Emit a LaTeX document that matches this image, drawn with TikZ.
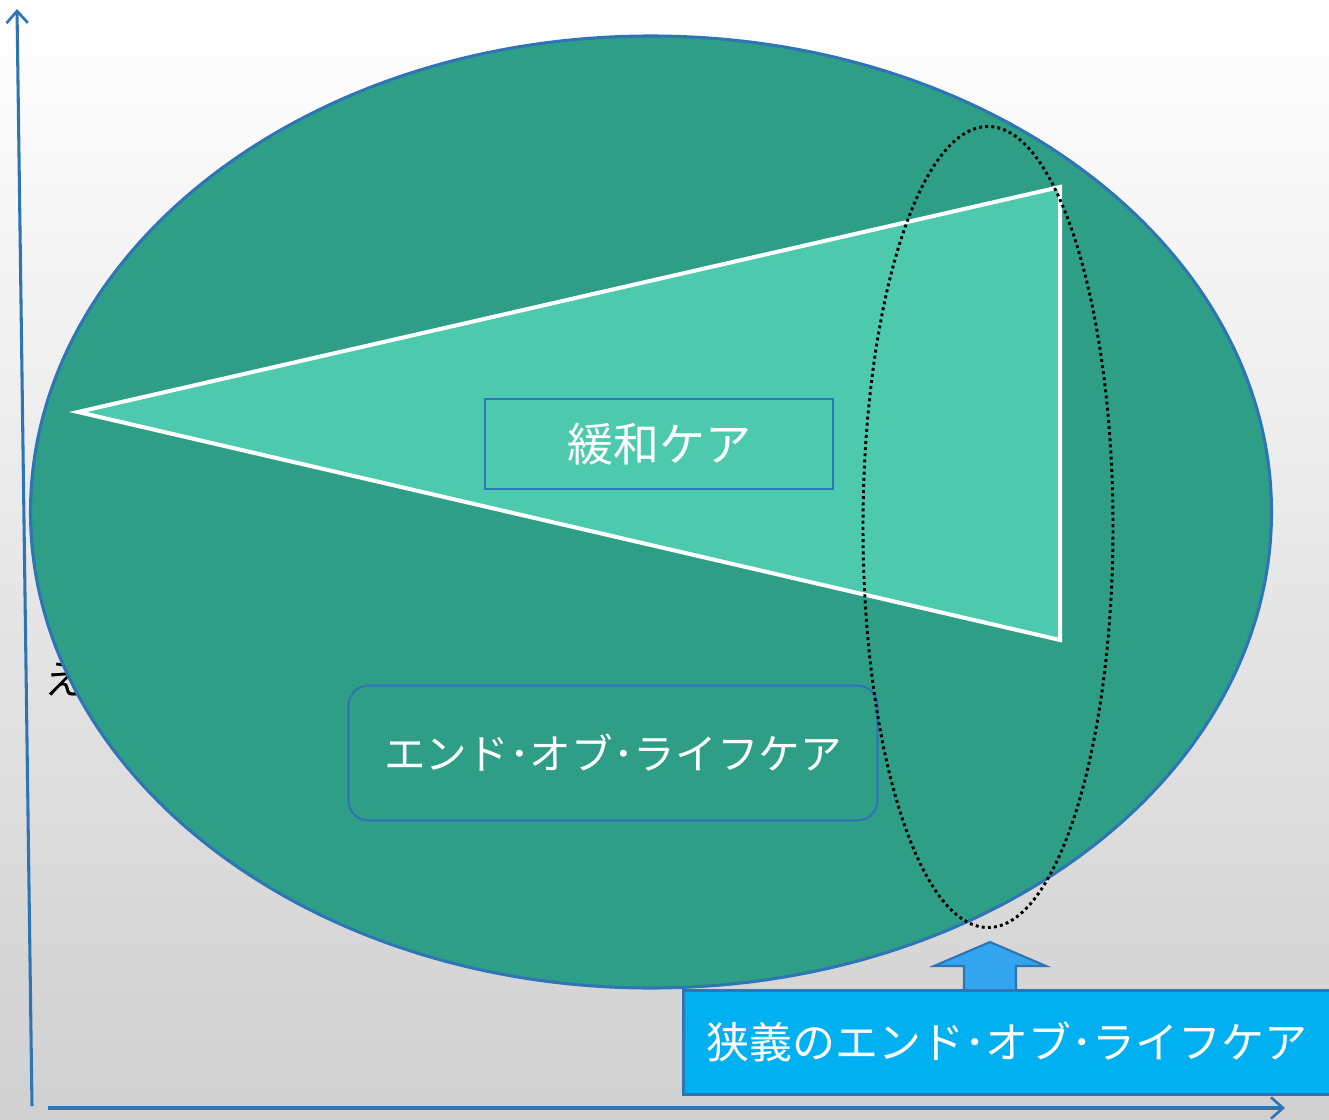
\documentclass[tikz,border=0pt]{standalone}
\usepackage{fontspec}
\newfontfamily\jp{Noto Sans CJK JP}
\usetikzlibrary{arrows.meta,shapes.geometric,shapes.arrows}
\definecolor{bgbot}{RGB}{208,208,208}
\definecolor{axisblue}{RGB}{46,117,182}
\definecolor{bigfill}{RGB}{47,158,134}
\definecolor{trifill}{RGB}{77,202,173}
\definecolor{boxfill}{RGB}{0,176,240}
\definecolor{arrfill}{RGB}{51,164,238}
\tikzset{
  axisline/.style={draw=axisblue, line width=2.3pt, -{Straight Barb[length=9pt,width=16pt,line width=2pt]}},
  whitetext/.style={text=white, font=\jp\fontsize{34.5pt}{40pt}\selectfont, inner sep=0pt},
}
\begin{document}
\begin{tikzpicture}[x=0.75pt,y=-0.75pt]
\useasboundingbox (0,0) rectangle (1329,1120);
\shade[top color=white, bottom color=bgbot] (0,0) rectangle (1329,1120);
% axes
\coordinate (yb) at (32,1106);
\coordinate (yt) at (17,9);
\coordinate (xl) at (48,1108);
\coordinate (xr) at (1285,1108);
\draw[axisline] (yb) -- (yt);
\draw[axisline] (xl) -- (xr);
% partially hidden text
\node[font=\jp\fontsize{30pt}{34pt}\selectfont, text=black, anchor=west, inner sep=0pt] (e) at (44,680) {え};
% big ellipse
\node[ellipse, draw=axisblue, line width=2.3pt, fill=bigfill, minimum width=1241*0.75pt, minimum height=952*0.75pt, inner sep=0pt] (big) at (651,512) {};
% triangle
\coordinate (ta) at (78,412);
\coordinate (tb) at (1060,187);
\coordinate (tc) at (1060,640);
\draw[white, line width=3pt, fill=trifill, line join=miter] (ta) -- (tb) -- (tc) -- cycle;
% labels
\node[draw=axisblue, line width=1.6pt, minimum width=348*0.75pt, minimum height=90*0.75pt, whitetext] (kanwa) at (659,444) {緩和ケア};
\node[draw=axisblue, line width=1.6pt, rounded corners=15pt, minimum width=529*0.75pt, minimum height=135*0.75pt, whitetext, font=\jp\fontsize{31.2pt}{36pt}\selectfont] (eol) at (613,753) {エンド･オブ･ライフケア};
% dotted ellipse
\node[ellipse, draw=black, line width=2.2pt, dash pattern=on 2.2pt off 2.4pt, minimum width=250*0.75pt, minimum height=801*0.75pt, inner sep=0pt] (narrow) at (988,527) {};
% up arrow
\draw[fill=arrfill, draw=axisblue, line width=1.6pt] (964,995) -- (964,966) -- (934,966) -- (990,942) -- (1046,966) -- (1016,966) -- (1016,995) -- cycle;
\coordinate (arrtip) at (990,942);
% bottom box
\node[draw=axisblue, line width=2pt, fill=boxfill, minimum width=650*0.75pt, minimum height=104*0.75pt, anchor=north west, inner sep=0pt] (nbox) at (682,989) {};
\node[whitetext, font=\jp\fontsize{32.2pt}{37pt}\selectfont] (nlabel) at (1007,1042) {狭義のエンド･オブ･ライフケア};
\end{tikzpicture}
\end{document}
